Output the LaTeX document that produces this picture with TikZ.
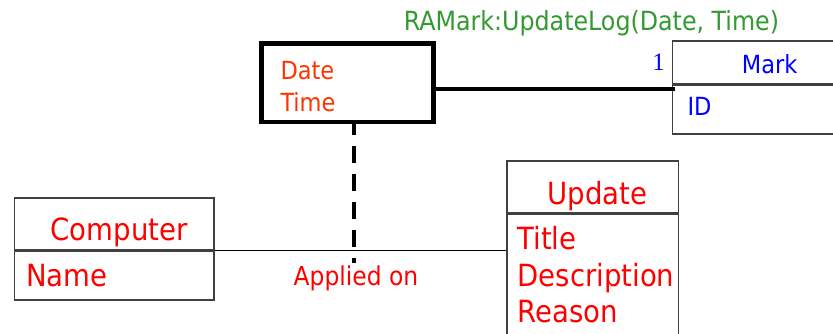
\documentclass[tikz,border=0pt]{standalone}
\usepackage{fontspec}
\newfontfamily\tah{DejaVu Sans Condensed}
\newfontfamily\serifnum{Liberation Serif}
\definecolor{attrred}{HTML}{FF0000}
\definecolor{linkred}{HTML}{FF3300}
\definecolor{markblue}{HTML}{0000FF}
\definecolor{rolegreen}{HTML}{339933}
\definecolor{boxline}{HTML}{404040}
\tikzset{
  lbl/.style={inner sep=0pt, outer sep=0pt},
  big/.style={lbl, font=\tah\fontsize{30.6}{36}\selectfont, text=attrred},
  mid/.style={lbl, font=\tah\fontsize{25}{30}\selectfont},
  classpart/.style={draw=boxline, line width=1.5pt, rectangle, inner sep=0pt,
    anchor=north west},
}
\begin{document}
\begin{tikzpicture}[x=1pt, y=-1pt]
\useasboundingbox (0,0) rectangle (833,333);

% Mark class (runs off the right edge)
\node[classpart, minimum width=175pt, minimum height=42.5pt] (markhead) at (671.7,40.2) {};
\node[classpart, minimum width=175pt, minimum height=49pt] (markattr) at (markhead.south west) {};
\node[mid, text=markblue, anchor=base] (markname) at (769.7,73.3) {Mark};
\node[mid, text=markblue, anchor=base west] (markid) at (687.5,115) {ID};
\node[lbl, font=\serifnum\fontsize{25}{28}\selectfont, text=markblue, anchor=base] (mult) at (658.5,70.5) {1};

% Role name above the link attributes
\node[lbl, font=\tah\fontsize{26.4}{30}\selectfont, text=rolegreen, anchor=base] (role) at (591.5,30) {RAMark:UpdateLog(Date, Time)};

% Computer class
\node[classpart, minimum width=199.5pt, minimum height=52pt] (comphead) at (13.7,197) {};
\node[classpart, minimum width=199.5pt, minimum height=48.7pt] (compattr) at (comphead.south west) {};
\node[big, anchor=base] (compname) at (119.2,240) {Computer};
\node[big, anchor=base west] (compa) at (26,286) {Name};

% Update class (runs off the bottom edge)
\node[classpart, minimum width=171.7pt, minimum height=51.7pt] (updhead) at (506,160) {};
\node[classpart, minimum width=171.7pt, minimum height=140pt] (updattr) at (updhead.south west) {};
\node[big, anchor=base] (updname) at (597.5,204.3) {Update};
\node[big, anchor=base west] (upda) at (517.5,249.3) {Title};
\node[big, anchor=base west] (updb) at (517.5,286) {Description};
\node[big, anchor=base west] (updc) at (517.5,322.7) {Reason};

% Association between Computer and Update
\coordinate (assocmid) at (354.3,249);
\coordinate (dashend) at (354.3,263);
\draw[line width=1.8pt] (compattr.north east) -- (compattr.north east -| updattr.west);
\node[lbl, font=\tah\fontsize{26}{30}\selectfont, text=attrred, anchor=base] (assoclbl) at (356,285) {Applied on};

% Link attribute box with its dashed connector
\draw[line width=4.2pt, dash pattern=on 16.7pt off 11.3pt] (354.3,118) -- (dashend);
\node[draw, line width=4.5pt, rectangle, inner sep=0pt, anchor=north west,
  minimum width=172pt, minimum height=78.5pt, fill=white] (dt) at (259,41) {};
\node[mid, text=linkred, anchor=base west] (dtdate) at (280.5,79) {Date};
\node[mid, text=linkred, anchor=base west] (dttime) at (280.5,111) {Time};

% Link to Mark
\draw[line width=3.2pt] (dt.east |- 0,89) -- (markattr.north west |- 0,89) -- ++(3.5,0);
\end{tikzpicture}
\end{document}
